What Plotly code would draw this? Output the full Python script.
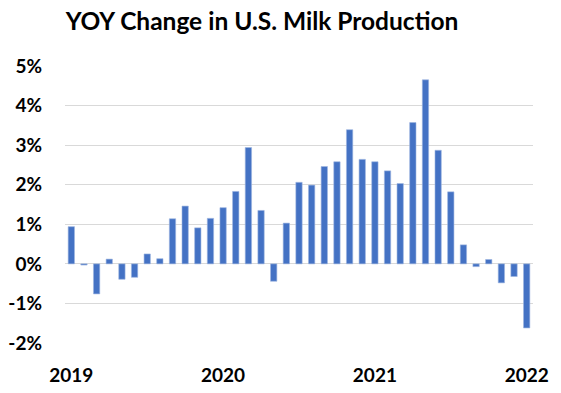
import plotly.graph_objects as go

months = [f"{y}-{m:02d}" for y in (2019, 2020, 2021) for m in range(1, 13)] + ["2022-01"]
yoy_pct = [0.94, -0.03, -0.76, 0.12, -0.39, -0.34, 0.25, 0.13, 1.14, 1.46, 0.91, 1.15,
           1.42, 1.83, 2.94, 1.35, -0.44, 1.03, 2.06, 1.99, 2.46, 2.58, 3.39, 2.64,
           2.58, 2.35, 2.03, 3.57, 4.65, 2.87, 1.82, 0.48, -0.07, 0.11, -0.48, -0.32,
           -1.62]
tick_months = ["2019-01", "2020-01", "2021-01", "2022-01"]
tick_labels = ["2019", "2020", "2021", "2022"]
y_ticks = [-2, -1, 0, 1, 2, 3, 4, 5]

font = "Lato, 'Open Sans', sans-serif"

fig = go.Figure(go.Bar(
    x=months, y=[v / 100 for v in yoy_pct],
    marker=dict(color="#4472C4", line=dict(color="#9DB5E0", width=0.6)),
    width=0.5,
))

fig.update_layout(
    width=561, height=393,
    margin=dict(l=65, r=28, t=66, b=50),
    paper_bgcolor="white", plot_bgcolor="white",
    showlegend=False,
    title=dict(text="<b>YOY Change in U.S. Milk Production</b>",
               x=262 / 561, xanchor="center", xref="container",
               y=1 - 21 / 393, yanchor="middle", yref="container",
               font=dict(family=font, size=24.5, color="black")),
    font=dict(family=font, color="black"),
)
fig.update_xaxes(
    type="category", range=[-0.5, 36.5], automargin=False,
    tickmode="array", tickvals=tick_months, ticktext=[f"<b>{t}</b>" for t in tick_labels],
    tickfont=dict(size=19, family=font, color="black"),
    showgrid=False, showline=False, ticks="", ticklen=0, ticklabelstandoff=19,
)
fig.update_yaxes(
    range=[-0.02, 0.05], tickmode="array", tickvals=[t / 100 for t in y_ticks],
    ticktext=[f"<b>{t}%</b>" for t in y_ticks], automargin=False,
    tickfont=dict(size=19, family=font, color="black"),
    showgrid=True, gridcolor="#D9D9D9", gridwidth=1,
    zeroline=True, zerolinecolor="#D9D9D9", zerolinewidth=1,
    showline=False, ticks="", ticklabelstandoff=22,
)

fig.write_html("out.html", config={"displayModeBar": False},
               post_script="document.body.style.margin='0';document.body.style.padding='0';")
